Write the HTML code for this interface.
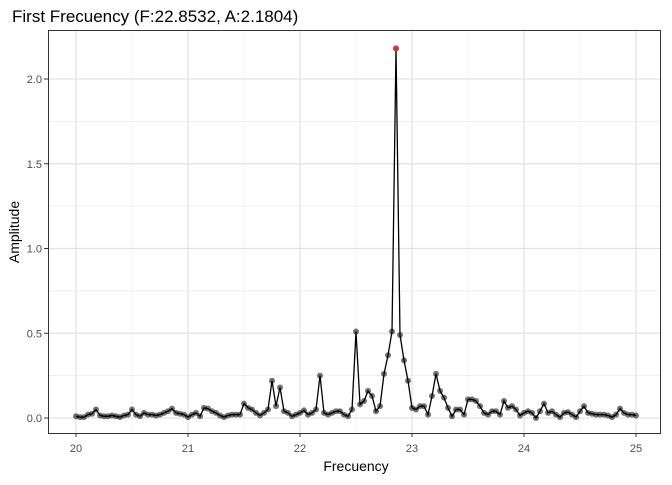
<!DOCTYPE html>
<html><head><meta charset="utf-8"><style>
body{margin:0;background:#fff;font-family:"Liberation Sans",sans-serif}
</style></head><body>
<svg id="chart" width="672" height="480" xmlns="http://www.w3.org/2000/svg" font-family="Liberation Sans, sans-serif">
<text x="12" y="22" font-size="17" fill="#000">First Frecuency (F:22.8532, A:2.1804)</text>
<rect x="48.5" y="30.5" width="612" height="403" fill="#fff" stroke="none"/>
<g id="grid"></g><g id="series"></g>
<rect x="48.5" y="30.5" width="612" height="403" fill="none" stroke="#333" stroke-width="1"/>
<g id="axes"></g>
<text x="356" y="471" font-size="14" text-anchor="middle">Frecuency</text>
<text transform="translate(19,232) rotate(-90)" font-size="14" text-anchor="middle">Amplitude</text>
</svg>
<script>
const amplitudes=[.01,.005,.005,.02,.025,.05,.015,.01,.01,.015,.01,.005,.015,.02,.05,.02,.01,.03,.02,.02,
.015,.02,.03,.04,.055,.03,.025,.02,.005,.02,.03,.01,.06,.055,.04,.03,.015,.005,.015,.02,
.02,.02,.085,.06,.05,.03,.015,.03,.05,.22,.07,.18,.04,.03,.01,.02,.03,.045,.02,.03,
.05,.25,.03,.02,.03,.04,.04,.02,.01,.05,.51,.08,.1,.16,.13,.04,.07,.26,.37,.51,
2.1804,.49,.34,.22,.06,.05,.07,.07,.02,.13,.26,.16,.12,.06,.01,.05,.05,.02,.11,.11,
.1,.07,.03,.02,.04,.04,.02,.1,.06,.07,.05,.015,.03,.04,.03,0,.04,.085,.03,.04,
.02,.005,.03,.035,.02,.005,.04,.07,.03,.025,.02,.02,.02,.015,.005,.02,.055,.03,.02,.02,.015];
const freqStart=20, freqStep=0.035715;
const xTicks=[20,21,22,23,24,25];
const yTicks=[0,0.5,1.0,1.5,2.0];
const yTickLabels=["0.0","0.5","1.0","1.5","2.0"];
const NS="http://www.w3.org/2000/svg";
const sx=v=>76+(v-20)*112, sy=v=>418-v*169.5;
function mk(tag,attrs,parent){const e=document.createElementNS(NS,tag);for(const k in attrs)e.setAttribute(k,attrs[k]);parent.appendChild(e);return e;}
const grid=document.getElementById('grid'),axes=document.getElementById('axes'),series=document.getElementById('series');
for(let i=0;i<xTicks.length-1;i++){const m=sx((xTicks[i]+xTicks[i+1])/2);const l=mk('line',{x1:m,x2:m,y1:30,y2:433,stroke:'#ebebeb','stroke-width':0.7},grid);}
for(let i=0;i<yTicks.length-1;i++){const m=sy((yTicks[i]+yTicks[i+1])/2);const l=mk('line',{x1:48,x2:660,y1:m,y2:m,stroke:'#ebebeb','stroke-width':0.7},grid);}
xTicks.forEach(t=>{const x=sx(t);
const g=mk('line',{x1:x,x2:x,y1:30,y2:433,stroke:'#e3e3e3','stroke-width':1.3},grid);
const tk=mk('line',{x1:x,x2:x,y1:433,y2:437,stroke:'#333'},axes);
const tx=mk('text',{x:x,y:452,'font-size':11,fill:'#4d4d4d','text-anchor':'middle'},axes);tx.textContent=t;});
yTicks.forEach((t,i)=>{const y=sy(t);
const g=mk('line',{x1:48,x2:660,y1:y,y2:y,stroke:'#e3e3e3','stroke-width':1.3},grid);
const tk=mk('line',{x1:44,x2:48,y1:y,y2:y,stroke:'#333'},axes);
const tx=mk('text',{x:42,y:y+4,'font-size':11,fill:'#4d4d4d','text-anchor':'end'},axes);tx.textContent=yTickLabels[i];});
const pts=amplitudes.map((a,i)=>[sx(freqStart+i*freqStep),sy(a)]);
const line=mk('polyline',{points:pts.map(p=>p.join(',')).join(' '),fill:'none',stroke:'#000','stroke-width':1.3},series);


let peak=0;amplitudes.forEach((a,i)=>{if(a>amplitudes[peak])peak=i;});
pts.forEach((p,i)=>{const c=mk('circle',{cx:p[0],cy:p[1],r:3,fill:'#000','fill-opacity':0.55},series);

});
const pk=mk('circle',{cx:pts[peak][0],cy:pts[peak][1],r:3,fill:'#e8322f','fill-opacity':0.85},series);


</script>
</body></html>
